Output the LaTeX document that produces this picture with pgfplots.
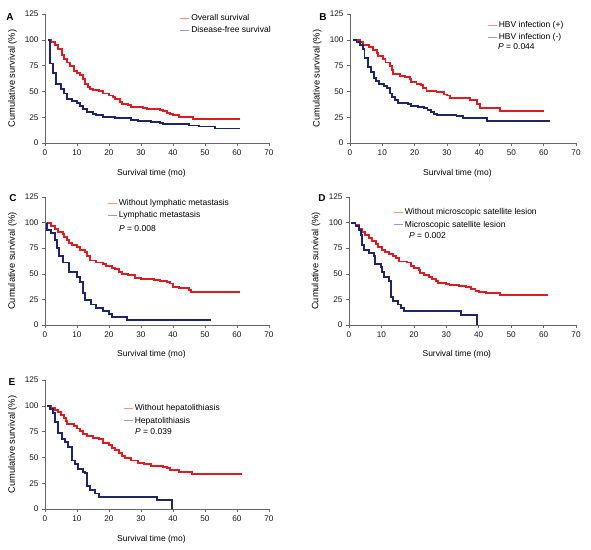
\documentclass[border=0pt]{standalone}
\usepackage{pgfplots}
\pgfplotsset{compat=1.18}
\usepackage{fontspec}
\setmainfont{Liberation Sans}
\definecolor{kmred}{RGB}{218,30,36}
\definecolor{kmblue}{RGB}{30,38,104}
\definecolor{legred}{RGB}{240,150,125}
\definecolor{legblue}{RGB}{150,155,205}
\newcommand{\tx}{\fontsize{8.5}{9.5}\selectfont}
\newcommand{\tk}{\fontsize{8.2}{9}\selectfont}
\pgfplotsset{
  km/.style={
    scale only axis, width=224pt, height=129pt,
    xmin=0, xmax=70, ymin=0, ymax=125,
    xtick={0,10,...,70}, ytick={0,25,...,125},
    axis lines=left, axis line style={-, black!60, line width=0.5pt},
    tick style={black!60, line width=0.5pt}, major tick length=3pt, tick align=outside,
    /pgf/number format/assume math mode=true,
    ticklabel style={font=\tk, text=black!90},
    label style={font=\tx},
    xlabel={Survival time (mo)}, ylabel={Cumulative survival (\%)},
    xlabel style={at={(axis description cs:0.475,-0.232)}, anchor=center},
    ylabel style={at={(axis description cs:-0.145,0.5)}, anchor=center, font=\fontsize{9.3}{10}\selectfont},
    legend cell align=left,
    legend image code/.code={\draw[##1, line width=0.7pt] (0pt,0pt) -- (9pt,0pt);},
    legend style={draw=none, fill=none, font=\tx, inner sep=0pt, row sep=0.5pt, anchor=north west},
    clip=false,
  },
  rl/.style={kmred, line width=1.9pt, const plot mark left, no marks, forget plot},
  bl/.style={kmblue, line width=1.9pt, const plot mark left, no marks, forget plot},
}
\begin{document}
\begin{tikzpicture}[x=1pt,y=1pt]
\path[use as bounding box] (0,0) rectangle (591,549);
% Panel A
\begin{axis}[km, at={(45pt,406pt)}, anchor=south west,
  legend style={at={(0.6,1.015)}}]
\addplot[rl] coordinates {(1,100)(2,98)(3,95)(4,91)(5.2,85)(6,81)(7,78)(7.8,75)(9,70)(10,68)(11,66)(12,62)(12.5,57)(13.5,54)(14,52)(15,51)(17,50)(18.2,48)(20,46)(21.3,45)(22,43)(23.4,40)(24,38)(26,37)(27,35)(30.7,34)(32,33)(35.9,32)(37,31)(38,29)(39,28)(40,27)(42,25)(46.3,23.5)(61,23.5)};
\addplot[bl] coordinates {(1,100)(1.5,77)(2.5,68)(3.5,57)(5,52)(6,48)(7,43)(8.5,41)(10,39)(11,36)(12,33)(13,30)(15,28)(16,27)(18,25)(22,24)(27,22)(29,21)(33,20)(36,19)(37,18)(45,17)(48,16)(53,14)(61,14)};
\addlegendimage{legred}\addlegendentry{Overall survival}
\addlegendimage{legblue}\addlegendentry{Disease-free survival}
\end{axis}
% Panel B
\begin{axis}[km, at={(350pt,406pt)}, anchor=south west, width=226pt,
  legend style={at={(0.606,0.96)}}]
\addplot[rl] coordinates {(1,100)(3,98)(4,95)(6,93)(7,90)(8.3,87)(8.8,84)(10.3,81)(11,78)(12.4,75)(13,71)(13.4,67)(15.5,65)(17,64)(18.6,62)(19,59)(20.6,57)(22,56)(22.7,53)(23.7,50)(26.8,49)(29,47)(30,46)(31,44)(37.2,42)(39.2,38)(40.3,34)(46.5,31)(60,31)};
\addplot[bl] coordinates {(1,100)(2,98)(3,95)(4,91)(4.5,82)(5.5,74)(6.5,69)(7.5,63)(8,60)(9,57)(10.5,55)(11.5,53)(12.5,48)(13,45)(14,42)(15,39)(18,38)(19,36)(21,35)(23,34)(24,32)(25,30)(26,28)(27,27)(33,26)(35,24)(42.5,21.5)(62,21.5)};
\addlegendimage{legred}\addlegendentry{HBV infection (+)}
\addlegendimage{legblue}\addlegendentry{HBV infection (-)}
\node[anchor=west, font=\tx, inner sep=0pt] at (axis cs:45.8,93.3) {\textit{P} = 0.044};
\end{axis}
% Panel C
\begin{axis}[km, at={(45pt,224pt)}, anchor=south west, height=128pt,
  legend style={at={(0.277,1.0)}}]
\addplot[rl] coordinates {(0.5,100)(2,97)(3,94)(4,91)(5.5,89)(6,86)(7,83)(7.5,80)(8.5,78)(10,76)(11,73)(12.5,71)(13,67)(14,63)(16,61)(18,60)(19,58)(21,56)(22,55)(23,52)(24,50)(26,48.5)(28,46)(30,45)(34,44)(36,43)(38,42)(39,40.5)(40,37)(42,36)(45,34.5)(45.5,32)(61,32)};
\addplot[bl] coordinates {(0.5,100)(0.7,93)(1.8,90)(3,83)(3.8,75)(4.5,67)(5.5,61)(7.5,52)(10,47)(11,42)(11.8,31)(12.5,24)(14.5,20)(16,17)(18,14)(20,10.5)(21,8)(25.5,5)(52,5)};
\addlegendimage{legred}\addlegendentry{Without lymphatic metastasis}
\addlegendimage{legblue}\addlegendentry{Lymphatic metastasis}
\node[anchor=west, font=\tx, inner sep=0pt] at (axis cs:23.1,94.4) {\textit{P} = 0.008};
\end{axis}
% Panel D
\begin{axis}[km, at={(349pt,224pt)}, anchor=south west, height=128pt, width=227pt,
  legend style={at={(0.194,0.925)}}]
\addplot[rl] coordinates {(0.5,100)(2,98)(3.1,94)(4.1,91)(5,88)(6.2,85)(7.2,82)(8.3,79.5)(9,76)(10.3,73)(11,71)(12.4,69)(13.5,67)(14.5,65)(15.5,62)(18,61)(19,58)(20,56)(21.7,54)(22,51)(23,49)(24.8,47)(25.5,45)(26.8,43)(27.5,41)(30,40)(31,39)(34,38)(36,37)(37.7,35)(39,33)(40,32.5)(42.3,31)(46.5,29.5)(61.4,29.5)};
\addplot[bl] coordinates {(0.5,100)(2,97)(3.1,93)(3.6,88)(4.1,78)(4.6,73)(6.2,70)(7.7,67)(8,60)(9.8,57)(10.2,52)(10.8,47)(12.4,43)(12.9,27)(13.6,23)(15,20)(16,17)(17,14)(34.6,10)(39.5,0)};
\addlegendimage{legred}\addlegendentry{Without microscopic satellite lesion}
\addlegendimage{legblue}\addlegendentry{Microscopic satellite lesion}
\node[anchor=west, font=\tx, inner sep=0pt] at (axis cs:18.5,87.2) {\textit{P} = 0.002};
\end{axis}
% Panel E
\begin{axis}[km, at={(45pt,40pt)}, anchor=south west,
  legend style={at={(0.348,0.825)}}]
\addplot[rl] coordinates {(1,100)(2,98)(3,96)(4,94)(5,91)(6,88)(6.5,85)(7,82)(9,80)(10,78)(11,76)(12,73)(13,71)(15,69)(17,68)(18,64)(20,62)(21,59)(22,57)(23,54)(24,51)(25,49)(27,47)(29,45)(31,44)(33,42)(37,41)(38,40)(39,38)(42,36)(46,34)(61.5,34)};
\addplot[bl] coordinates {(0.5,100)(1.6,97)(2.6,93)(3.1,84)(4.2,74)(5.2,68)(6.2,65)(7.3,60)(8.3,47)(9.4,44)(10.4,39)(12,36)(12.5,35)(13,22)(14,18)(15.5,15)(17,12)(35,9)(39.8,0)};
\addlegendimage{legred}\addlegendentry{Without hepatolithiasis}
\addlegendimage{legblue}\addlegendentry{Hepatolithiasis}
\node[anchor=west, font=\tx, inner sep=0pt] at (axis cs:28.1,74.9) {\textit{P} = 0.039};
\end{axis}
% panel letters
\node[font=\fontsize{10}{11}\selectfont\bfseries] at (10,532) {A};
\node[font=\fontsize{10}{11}\selectfont\bfseries] at (323,532) {B};
\node[font=\fontsize{10}{11}\selectfont\bfseries] at (13,351) {C};
\node[font=\fontsize{10}{11}\selectfont\bfseries] at (322,351) {D};
\node[font=\fontsize{10}{11}\selectfont\bfseries] at (12,167) {E};
\end{tikzpicture}
\end{document}
